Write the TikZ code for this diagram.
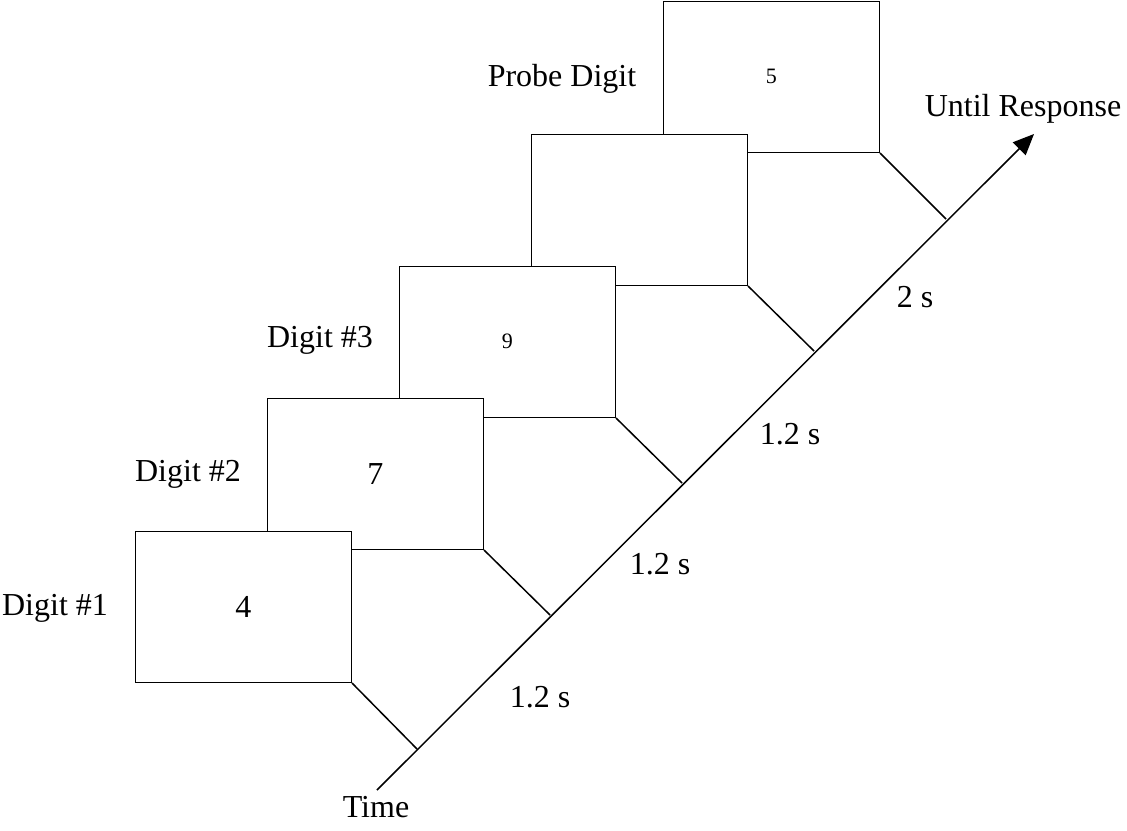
\documentclass[tikz,border=0pt]{standalone}
\usepackage{fontspec}
\setmainfont{Liberation Serif}
\usetikzlibrary{arrows.meta}
\begin{document}
\begin{tikzpicture}[x=1pt,y=-1pt,
  lbl/.style={font=\fontsize{32}{38}\selectfont, anchor=base, inner sep=0pt},
  screen/.style={draw, fill=white, line width=1.5pt, minimum width=216pt, minimum height=151pt, inner sep=0pt, anchor=north west},
  big/.style={font=\fontsize{32}{38}\selectfont},
  small/.style={font=\fontsize{22}{26}\selectfont},
  tick/.style={line width=1.5pt}]
\useasboundingbox (0,0) rectangle (1127,830);
% screens, back to front
\node[screen, small] (b5) at (662.5,0.5) {5};
\node[screen] (b4) at (530.5,133.5) {};
\node[screen, small] (b3) at (398.5,265.5) {9};
\node[screen, big] (b2) at (266.5,397.5) {7};
\node[screen, big] (b1) at (134.5,530.5) {4};
% axis coordinates
\coordinate (t1) at (417,749);
\coordinate (t2) at (550,615);
\coordinate (t3) at (682,483);
\coordinate (t4) at (814,351);
\coordinate (t5) at (946,219);
\coordinate (tstart) at (377,790);
\coordinate (tend) at (1034,134);
% time axis
\draw[tick, -{Triangle[length=21pt,width=18pt]}] (tstart) -- (tend);
\foreach \i in {1,...,5} \draw[tick] (b\i.south east) -- (t\i);
% labels
\node[lbl] (d1) at (55,615) {Digit \#1};
\node[lbl] (d2) at (188,481) {Digit \#2};
\node[lbl] (d3) at (320,347) {Digit \#3};
\node[lbl] (pd) at (562,86) {Probe Digit};
\node[lbl] (ur) at (1023,116) {Until Response};
\node[lbl] (s4) at (915,307) {2 s};
\node[lbl] (s3) at (790,444) {1.2 s};
\node[lbl] (s2) at (660,574) {1.2 s};
\node[lbl] (s1) at (540,707) {1.2 s};
\node[lbl] (tm) at (376,817) {Time};
\end{tikzpicture}
\end{document}
